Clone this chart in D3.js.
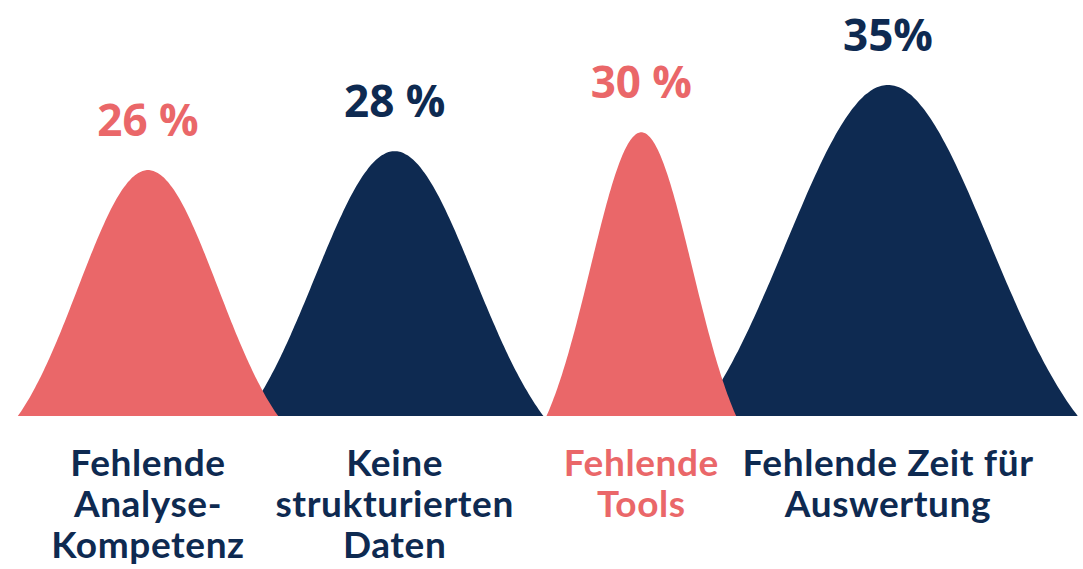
<!DOCTYPE html>
<html>
<head>
<meta charset="utf-8">
<script src="https://cdn.jsdelivr.net/npm/d3@7"></script>
<style>
  html, body { margin: 0; padding: 0; background: #fff; }
  svg { display: block; }
</style>
</head>
<body>
<div class="canvas"></div>
<script>
const categories = [
  "Fehlende Analyse-Kompetenz",
  "Keine strukturierten Daten",
  "Fehlende Tools",
  "Fehlende Zeit für Auswertung"
];
const values = [26, 28, 30, 35];
const valueLabels = ["26 %", "28 %", "30 %", "35%"];
const labelLines = [
  ["Fehlende", "Analyse-", "Kompetenz"],
  ["Keine", "strukturierten", "Daten"],
  ["Fehlende", "Tools"],
  ["Fehlende Zeit für", "Auswertung"]
];

const salmon = "#EA6769";
const navy = "#0E2A51";
const bellColors = [salmon, navy, salmon, navy];
const labelColors = [navy, navy, salmon, navy];
// bell spread (sigma, px) for each hill
const spread = [70, 80, 51, 102];

const width = 1083,
  height = 569;
const baseY = 416;

const svg = d3
  .select(".canvas")
  .append("svg")
  .attr("width", width)
  .attr("height", height);

const x = d3.scalePoint().domain(categories).range([148, 888]);
const y = d3.scaleLinear().domain([0, 35]).range([baseY, 85]);

// gaussian, cut off where it has dropped to ~18% so the sides meet the base at an angle
const cut = 1.86;
function bell(d, i) {
  const s = spread[i];
  const half = s * cut;
  const g0 = Math.exp(-(cut * cut) / 2);
  const c = x(d);
  return d3.range(0, 121).map((k) => {
    const dx = -half + (2 * half * k) / 120;
    const g = Math.exp(-(dx * dx) / (2 * s * s));
    return { px: c + dx, v: (values[i] * (g - g0)) / (1 - g0) };
  });
}

const area = d3
  .area()
  .x((p) => p.px)
  .y0(y(0))
  .y1((p) => y(p.v))
  .curve(d3.curveMonotoneX);

// draw right to left so each hill sits on top of its right neighbour
const order = [3, 2, 1, 0];
svg
  .append("g")
  .selectAll("path")
  .data(order)
  .enter()
  .append("path")
  .attr("d", (i) => area(bell(categories[i], i)))
  .attr("fill", (i) => bellColors[i]);

svg
  .append("g")
  .selectAll("text")
  .data(categories)
  .enter()
  .append("text")
  .attr("x", (d) => x(d))
  .attr("y", (d, i) => y(values[i]) - 34)
  .attr("text-anchor", "middle")
  .attr("font-family", "'Open Sans', sans-serif")
  .attr("font-weight", 700)
  .attr("font-size", 44)
  .attr("fill", (d, i) => bellColors[i])
  .text((d, i) => valueLabels[i]);

const labels = svg
  .append("g")
  .selectAll("text")
  .data(categories)
  .enter()
  .append("text")
  .attr("x", (d) => x(d))
  .attr("y", 476)
  .attr("text-anchor", "middle")
  .attr("font-family", "Lato, sans-serif")
  .attr("font-weight", 700)
  .attr("font-size", 37)
  .attr("letter-spacing", 0.6)
  .attr("fill", (d, i) => labelColors[i]);

labels
  .selectAll("tspan")
  .data((d, i) => labelLines[i].map((t) => ({ t, c: x(d) })))
  .enter()
  .append("tspan")
  .attr("x", (l) => l.c)
  .attr("dy", (l, j) => (j === 0 ? 0 : 41))
  .text((l) => l.t);
</script>
</body>
</html>
